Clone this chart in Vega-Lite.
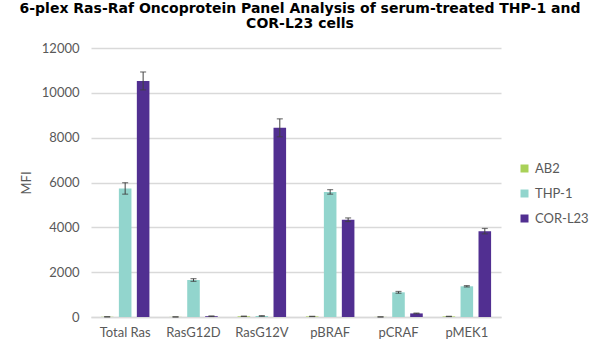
{
  "$schema": "https://vega.github.io/schema/vega-lite/v6.json",
  "width": 410,
  "height": 269,
  "autosize": {"type": "none"},
  "padding": {"left": 91, "top": 48, "right": 99, "bottom": 39},
  "background": "white",
  "title": {
    "text": ["6-plex Ras-Raf Oncoprotein Panel Analysis of serum-treated THP-1 and", "COR-L23 cells"],
    "font": "DejaVu Sans",
    "fontWeight": "bold",
    "fontSize": 14,
    "lineHeight": 15,
    "color": "#000000",
    "anchor": "middle",
    "frame": "group",
    "offset": 11,
    "dx": 4
  },
  "data": {
    "values": [
      {"target": "Total Ras", "group": "AB2", "value": 10, "lo": 10, "hi": 10},
      {"target": "Total Ras", "group": "THP-1", "value": 5730, "lo": 5480, "hi": 5990},
      {"target": "Total Ras", "group": "COR-L23", "value": 10530, "lo": 10130, "hi": 10930},
      {"target": "RasG12D", "group": "AB2", "value": 5, "lo": 5, "hi": 5},
      {"target": "RasG12D", "group": "THP-1", "value": 1650, "lo": 1590, "hi": 1710},
      {"target": "RasG12D", "group": "COR-L23", "value": 35, "lo": 25, "hi": 45},
      {"target": "RasG12V", "group": "AB2", "value": 30, "lo": 30, "hi": 30},
      {"target": "RasG12V", "group": "THP-1", "value": 45, "lo": 30, "hi": 60},
      {"target": "RasG12V", "group": "COR-L23", "value": 8440, "lo": 8040, "hi": 8840},
      {"target": "pBRAF", "group": "AB2", "value": 25, "lo": 25, "hi": 25},
      {"target": "pBRAF", "group": "THP-1", "value": 5580, "lo": 5480, "hi": 5680},
      {"target": "pBRAF", "group": "COR-L23", "value": 4340, "lo": 4260, "hi": 4420},
      {"target": "pCRAF", "group": "AB2", "value": 5, "lo": 5, "hi": 5},
      {"target": "pCRAF", "group": "THP-1", "value": 1100, "lo": 1060, "hi": 1140},
      {"target": "pCRAF", "group": "COR-L23", "value": 160, "lo": 145, "hi": 175},
      {"target": "pMEK1", "group": "AB2", "value": 25, "lo": 25, "hi": 25},
      {"target": "pMEK1", "group": "THP-1", "value": 1370, "lo": 1340, "hi": 1400},
      {"target": "pMEK1", "group": "COR-L23", "value": 3830, "lo": 3710, "hi": 3950}
    ]
  },
  "encoding": {
    "x": {
      "field": "target",
      "type": "nominal",
      "sort": ["Total Ras", "RasG12D", "RasG12V", "pBRAF", "pCRAF", "pMEK1"],
      "scale": {"paddingInner": 0.29, "paddingOuter": 0.145},
      "axis": {
        "title": null,
        "labelAngle": 0,
        "labelFont": "Lato",
        "labelFontSize": 13,
        "labelColor": "#595959",
        "labelPadding": 9,
        "ticks": false,
        "domainColor": "#d9d9d9",
        "domainWidth": 1.5
      }
    },
    "xOffset": {
      "field": "group",
      "type": "nominal",
      "sort": ["AB2", "THP-1", "COR-L23"],
      "scale": {"paddingInner": 0.3}
    }
  },
  "layer": [
    {
      "mark": {"type": "bar"},
      "encoding": {
        "y": {
          "field": "value",
          "type": "quantitative",
          "scale": {"domain": [0, 12000], "nice": false},
          "axis": {
            "title": "MFI",
            "titleFont": "Lato",
            "titleFontWeight": "normal",
            "titleFontSize": 13,
            "titleColor": "#595959",
            "titlePadding": 8,
            "labelFont": "Lato",
            "labelFontSize": 13,
            "labelColor": "#595959",
            "labelPadding": 12,
            "values": [0, 2000, 4000, 6000, 8000, 10000, 12000],
            "format": "d",
            "ticks": false,
            "domain": false,
            "grid": true,
            "gridColor": "#d9d9d9",
            "gridWidth": 1.5
          }
        },
        "color": {
          "field": "group",
          "type": "nominal",
          "sort": ["AB2", "THP-1", "COR-L23"],
          "scale": {"domain": ["AB2", "THP-1", "COR-L23"], "range": ["#a9d158", "#92d5cd", "#512f91"]},
          "legend": {
            "title": null,
            "orient": "none",
            "legendX": 427,
            "legendY": 114,
            "symbolType": "square",
            "symbolSize": 64,
            "symbolStrokeWidth": 0,
            "labelFont": "Lato",
            "labelFontSize": 13,
            "labelColor": "#595959",
            "rowPadding": 11,
            "labelOffset": 4
          }
        }
      }
    },
    {
      "mark": {"type": "rule", "color": "#404040", "strokeWidth": 1},
      "encoding": {
        "y": {"field": "lo", "type": "quantitative"},
        "y2": {"field": "hi"}
      }
    },
    {
      "mark": {"type": "tick", "color": "#404040", "thickness": 1.2, "size": 6},
      "encoding": {
        "y": {"field": "lo", "type": "quantitative"}
      }
    },
    {
      "mark": {"type": "tick", "color": "#404040", "thickness": 1.2, "size": 6},
      "encoding": {
        "y": {"field": "hi", "type": "quantitative"}
      }
    }
  ],
  "config": {
    "view": {"stroke": null}
  }
}
